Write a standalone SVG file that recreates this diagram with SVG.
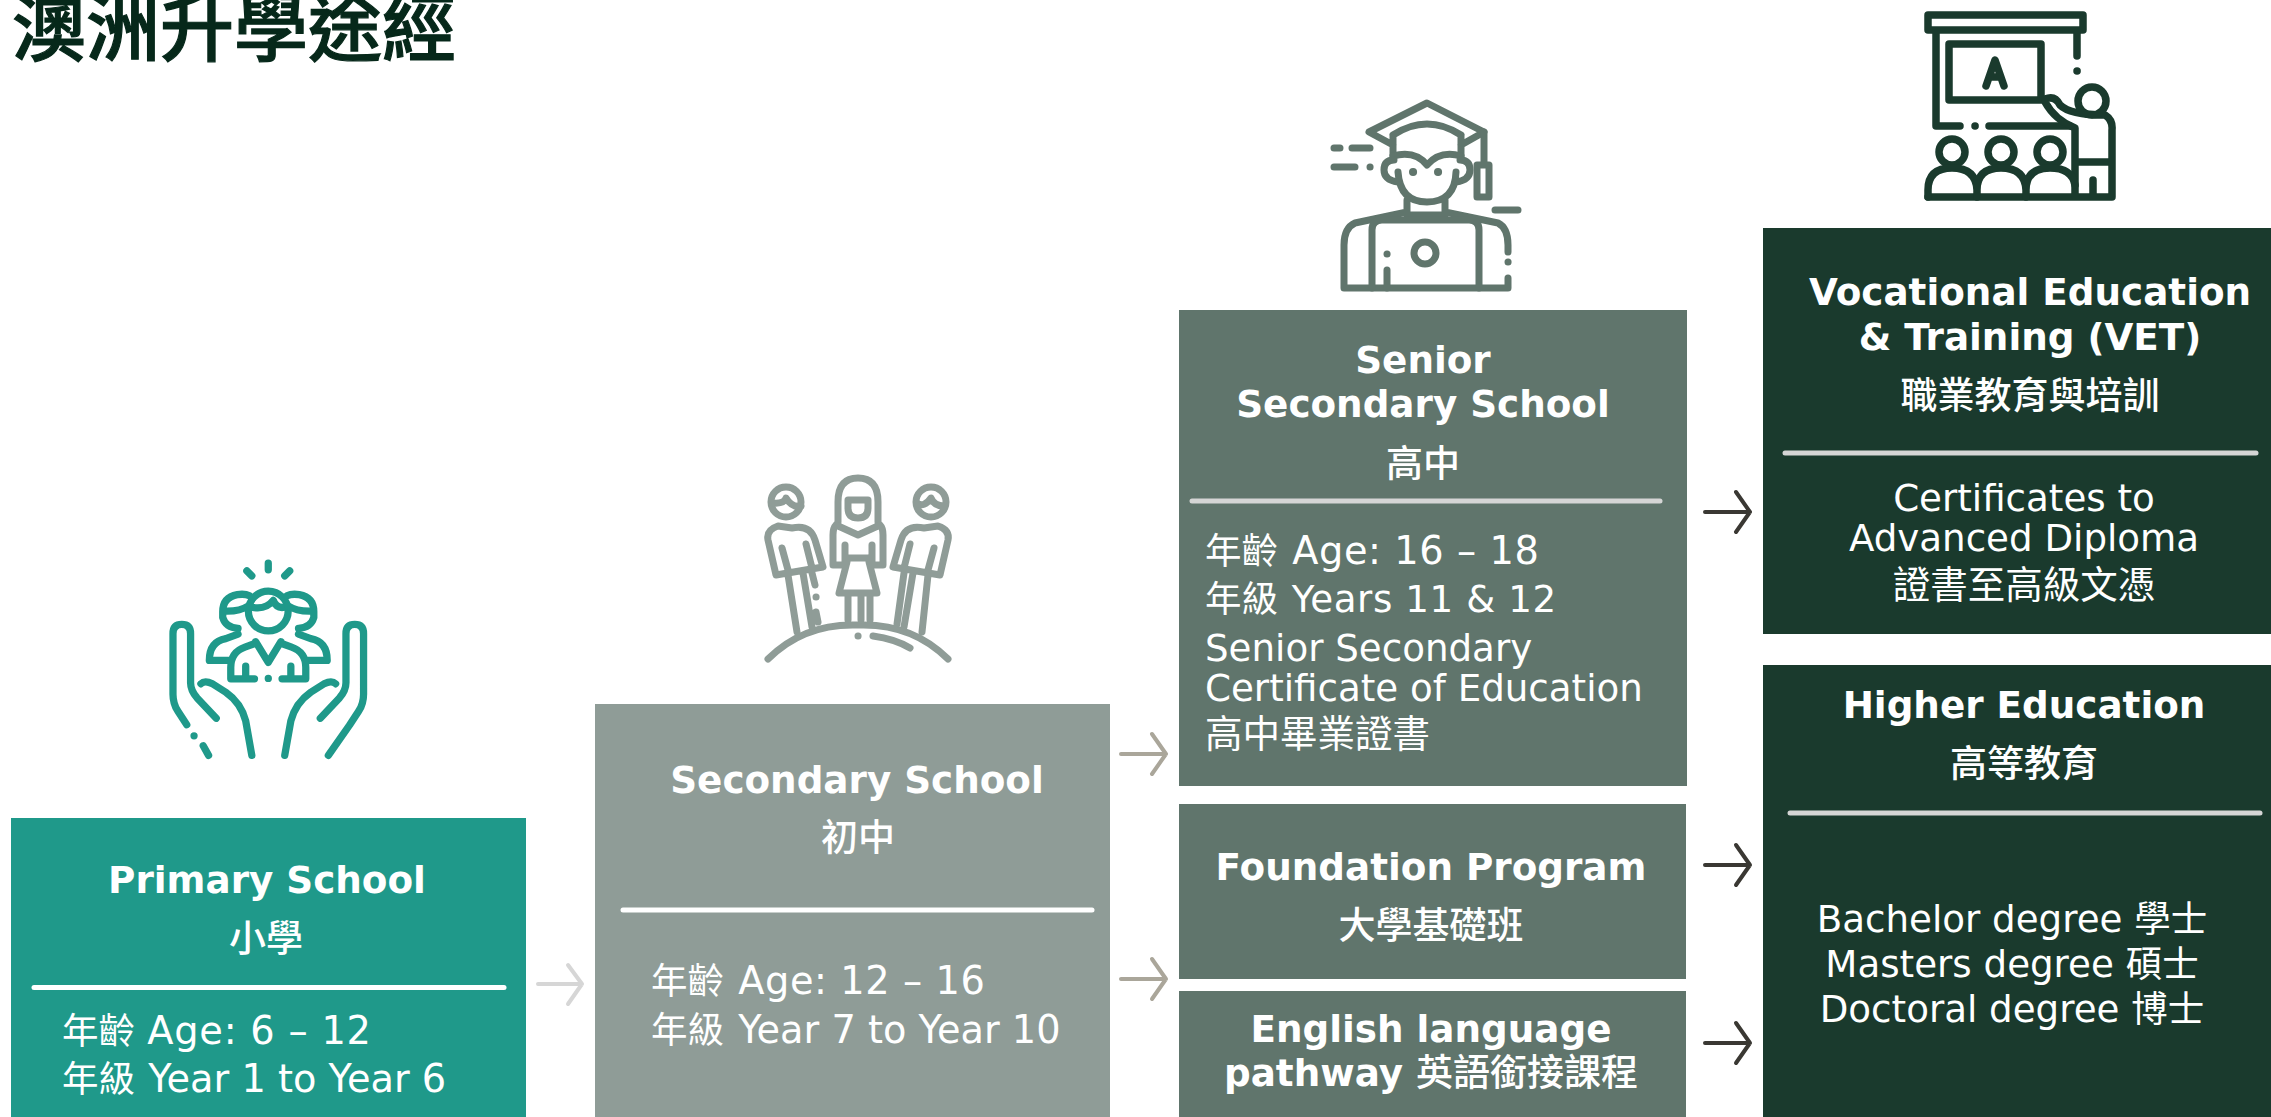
<svg xmlns="http://www.w3.org/2000/svg" width="2271" height="1117" viewBox="0 0 2271 1117">
<style>
text{font-family:"DejaVu Sans","Noto Sans CJK TC",sans-serif;fill:#fff}
.c{text-anchor:middle}
.h{font-weight:700;font-size:37.3px}
.z{font-family:"Noto Sans CJK TC","DejaVu Sans",sans-serif;font-size:37px;font-weight:500}
.b{font-size:37.2px}
.l{font-size:38.3px}
.j{font-family:"Noto Sans CJK TC",sans-serif;font-size:36.5px}
.d{stroke-width:5;stroke-linecap:round;fill:none}
.i{fill:none;stroke-linecap:round;stroke-linejoin:round}
.a{fill:none;stroke-width:4;stroke-linecap:round;stroke-linejoin:round}
</style>
<rect width="2271" height="1117" fill="#fff"/>
<text id="title" x="12" y="55" style="font-family:'Noto Sans CJK TC',sans-serif;font-size:74px;font-weight:500;fill:#06281a;stroke:#06281a;stroke-width:1.200">澳洲升學途經</text>

<g id="connectors">
<path class="a" stroke="#d6d6d6" d="M538,984H582M568,965L582,984L568,1004"/>
<path class="a" stroke="#aaa69a" d="M1121,754H1166M1152,734L1166,754L1152,774"/>
<path class="a" stroke="#aaa69a" d="M1121,979H1166M1152,959L1166,979L1152,999"/>
<path class="a" stroke="#3a3833" d="M1705,512H1750M1736,492L1750,512L1736,532"/>
<path class="a" stroke="#3a3833" d="M1705,865H1750M1736,845L1750,865L1736,885"/>
<path class="a" stroke="#3a3833" d="M1705,1043H1750M1736,1023L1750,1043L1736,1063"/>
</g>

<g id="primary">
<rect x="11" y="818" width="515" height="299" fill="#1f998a"/>
<text class="c h" x="267" y="893">Primary School</text>
<text class="c z" x="266" y="952">小學</text>
<path class="d" stroke="#fff" d="M34,987.500H504"/>
<text class="l" x="62" y="1044"><tspan class="j">年齡</tspan> <tspan letter-spacing=".8">Age: 6 – 12</tspan></text>
<text class="l" x="62" y="1092"><tspan class="j">年級</tspan> <tspan dx="1">Year 1 to Year 6</tspan></text>
<g class="i" stroke="#1f998a" stroke-width="19" transform="translate(0,520) scale(.3827)">
<path d="M488,535L465,500Q452,480 452,455V297Q452,273 475,273Q498,273 498,297V425Q498,445 515,465L565,518M525,428Q535,418 555,428L590,450Q630,478 642,525L658,615"/>
<path d="M914,535L937,500Q950,480 950,455V297Q950,273 927,273Q904,273 904,297V425Q904,445 887,465L837,518M877,428Q867,418 847,428L812,450Q772,478 760,525L744,615M858,615L914,535"/>
<path d="M531,590L545,615M507,564h.1M701,113V130M645,133L658,146M757,133L744,146M701,414h.1"/>
<circle cx="701" cy="238" r="52"/>
<path d="M658,228Q695,235 714,210Q722,232 744,228"/>
<path d="M652,198Q640,192 620,195Q582,202 582,240V255Q590,282 622,283M585,238Q625,240 650,224M750,198Q762,192 782,195Q820,202 820,240V255Q812,282 780,283M817,238Q777,240 752,224"/>
<path d="M622,298L590,310Q547,318 547,367H597M780,298L812,310Q855,318 855,367H805"/>
<path d="M668,322L640,332Q603,345 603,385V415H665M734,322L762,332Q799,345 799,385V415H737M668,318L701,372L734,318M642,382V405M760,382V405"/>
</g>
</g>

<g id="secondary">
<rect x="595" y="704" width="515" height="413" fill="#8f9c97"/>
<text class="c h" x="857" y="793">Secondary School</text>
<text class="c z" x="858" y="851">初中</text>
<path class="d" stroke="#fff" d="M623,910H1092"/>
<text class="l" x="651" y="994"><tspan class="j">年齡</tspan> <tspan dx="2" letter-spacing=".6">Age: 12 – 16</tspan></text>
<text class="l" x="651" y="1043"><tspan class="j">年級</tspan> <tspan dx="2">Year 7 to Year 10</tspan></text>
<g class="i" stroke="#8f9c97" stroke-width="7" transform="translate(700,440)">
<path d="M68,219Q104,183 158,185Q212,183 248,219M173,196Q195,199 210,208M158,196h.1"/>
<circle cx="86" cy="62" r="15"/><circle cx="231" cy="62" r="15"/>
<path d="M73,63Q84,64 86,58Q92,68 101,66M244,66Q234,66 231,58Q224,68 217,63"/>
<path d="M78,86L92,88Q110,84 115,100L123,127L76,135L68,100Q66,90 78,86ZM82,108L88,130M106,104L112,128M88,135L97,192M103,133L112,187M112,133L115,145M116,172L118,182M116,157h.1"/>
<path d="M238,86L224,88Q206,84 201,100L193,127L240,135L248,100Q250,90 238,86ZM234,108L228,130M210,104L204,128M228,135L222,192M213,133L204,187M204,133L197,184"/>
<path d="M138,82V62Q138,38 158,38Q178,38 178,62V82M148,60H168V68Q168,78 158,78Q148,78 148,68Z"/>
<path d="M136,85L158,95L180,85Q183,88 183,95V125H172V105M136,85Q133,88 133,95V125H145V105M148,118H168M147,122L139,153H177L169,122M148,153V180M161,153V180M170,153V180"/>
</g>
</g>

<g id="senior">
<rect x="1179" y="310" width="508" height="476" fill="#60756c"/>
<text class="c h" x="1423" y="373">Senior</text>
<text class="c h" x="1423" y="417">Secondary School</text>
<text class="c z" x="1423" y="477">高中</text>
<path class="d" stroke="#d5d5d5" d="M1192,501H1660"/>
<text class="l" x="1205" y="564"><tspan class="j">年齡</tspan> <tspan dx="2" letter-spacing=".6">Age: 16 – 18</tspan></text>
<text class="b" x="1205" y="612"><tspan class="j">年級</tspan> <tspan dx="2" letter-spacing=".6">Years 11 &amp; 12</tspan></text>
<text class="b" x="1205" y="661">Senior Secondary</text>
<text class="b" x="1205" y="701">Certificate of Education</text>
<text class="z" x="1205" y="747" style="font-weight:400;font-size:37.5px">高中畢業證書</text>
<g class="i" stroke="#60756c" stroke-width="7" transform="translate(1280,80)">
<path d="M113,65L89,52L147,23L204,52L181,65M113,55Q147,33 181,55M113,55V78M181,55V78"/>
<path d="M113,76Q135,70 147,85Q160,70 181,76M118,92Q120,122 147,122Q175,122 176,92"/>
<path d="M114,80Q104,80 104,90Q104,100 118,102M180,80Q190,80 190,90Q190,100 176,102"/>
<path d="M133,92h.1M158,92h.1" stroke-width="8"/>
<path d="M204,52V85M197,85H209V117H197ZM127,120V132L75,143Q64,148 64,165V208H228V198M165,120V132L218,143Q228,148 228,165V172M127,135H165"/>
<path d="M92,208V150Q92,140 102,140H189Q199,140 199,150V208M107,190V208M107,174h.1M228,182h.1M54,68H60M72,68H90M54,87H75M90,87h.1M215,130H238"/>
<circle cx="145" cy="173" r="11"/>
</g>
</g>

<g id="foundation">
<rect x="1179" y="804" width="507" height="175" fill="#60756c"/>
<text class="c h" x="1431" y="880">Foundation Program</text>
<text class="c z" x="1431" y="939">大學基礎班</text>
</g>

<g id="english">
<rect x="1179" y="991" width="507" height="126" fill="#60756c"/>
<text class="c h" x="1431" y="1042">English language</text>
<text class="c h" x="1431" y="1086">pathway <tspan class="z">英語銜接課程</tspan></text>
</g>

<g id="vet">
<rect x="1763" y="228" width="508" height="406" fill="#1a3a2d"/>
<text class="c h" x="2030" y="305">Vocational Education</text>
<text class="c h" x="2030" y="350">&amp; Training (VET)</text>
<text class="c z" x="2030" y="409">職業教育與培訓</text>
<path class="d" stroke="#d5d5d5" d="M1785,453H2256"/>
<text class="c b" x="2024" y="511">Certificates to</text>
<text class="c b" x="2024" y="551">Advanced Diploma</text>
<text class="c" x="2024" y="598" style="font-family:'Noto Sans CJK TC',sans-serif;font-size:37.5px">證書至高級文憑</text>
<g class="i" stroke="#1a3a2d" stroke-width="7.500" transform="translate(1900,0)">
<path d="M28,15H183V30H28ZM36,30V126H60M89,126H170M177,32V56M177,71h.1M75,126h.1"/>
<path d="M49,44H141V100H49ZM86,86L95,60L104,86M90,77H100"/>
<path d="M145,99Q155,95 160,105Q170,115 205,115Q213,120 212,130V197H28M145,102Q155,120 175,128V197M178,162H212M193,180V197"/>
<circle cx="192" cy="101" r="14"/>
<circle cx="52" cy="152" r="13"/><circle cx="101" cy="152" r="13"/><circle cx="150" cy="152" r="13"/>
<path d="M28,197V190Q28,168 52,168Q76,168 77,190V197M77,190Q77,168 101,168Q125,168 126,190V197M126,190Q126,168 150,168Q172,168 175,185"/>
</g>
</g>

<g id="higher">
<rect x="1763" y="665" width="508" height="452" fill="#1a3a2d"/>
<text class="c h" x="2024" y="718">Higher Education</text>
<text class="c z" x="2024" y="777">高等教育</text>
<path class="d" stroke="#d5d5d5" d="M1790,813H2260"/>
<text class="c b" x="2012" y="932">Bachelor degree <tspan class="j">學士</tspan></text>
<text class="c b" x="2012" y="977">Masters degree <tspan class="j">碩士</tspan></text>
<text class="c b" x="2012" y="1022">Doctoral degree <tspan class="j">博士</tspan></text>
</g>
</svg>
